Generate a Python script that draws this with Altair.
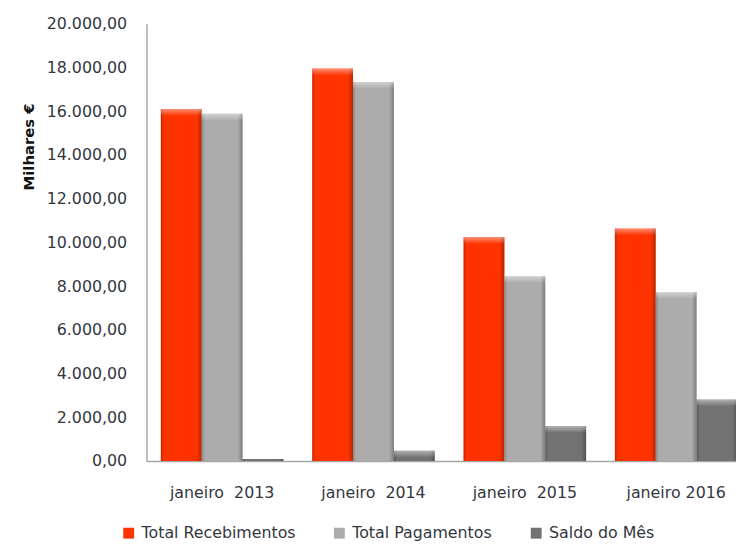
import altair as alt
import pandas as pd

# ---- data ----
categories = ["janeiro\u00a0 2013", "janeiro\u00a0 2014", "janeiro\u00a0 2015", "janeiro 2016"]
series = ["Total Recebimentos", "Total Pagamentos", "Saldo do Mês"]
total_recebimentos = [16100, 17950, 10240, 10640]
total_pagamentos = [15880, 17340, 8450, 7720]
saldo_do_mes = [90, 470, 1600, 2810]
colors = ["#FF3300", "#ACACAC", "#727272"]
y_ticks = list(range(0, 20001, 2000))

rows = []
for i, c in enumerate(categories):
    for s, vals in zip(series, [total_recebimentos, total_pagamentos, saldo_do_mes]):
        rows.append({"mes": c, "serie": s, "valor": vals[i]})
df = pd.DataFrame(rows)

FONT = "DejaVu Sans"
TXT = "#333740"

x_enc = alt.X(
    "mes:N", sort=categories, title=None,
    scale=alt.Scale(range=[0, 612], paddingInner=0.19, paddingOuter=0.095),
    axis=alt.Axis(labelAngle=0, ticks=False, labelPadding=24, labelFontSize=16,
                  labelFont=FONT, labelColor=TXT, domainColor="#A6A6A6", domainWidth=1.5),
)
xoff_enc = alt.XOffset("serie:N", sort=series, scale=alt.Scale(paddingInner=0, paddingOuter=0))
y_enc = alt.Y(
    "valor:Q",
    scale=alt.Scale(domain=[0, 20000], nice=False),
    axis=alt.Axis(
        values=y_ticks, grid=False, ticks=False, labelPadding=20,
        labelFontSize=16, labelFont=FONT, labelColor=TXT,
        labelExpr="replace(replace(replace(format(datum.value, ',.2f'), ',', 'X'), '.', ','), 'X', '.')",
        domainColor="#A6A6A6", domainWidth=1.5,
        title="Milhares €", titleFont=FONT, titleFontSize=15, titleFontWeight="bold",
        titleColor="#111111", titleX=-119, titleY=124, titleAngle=270,
        titleAlign="center", titleBaseline="middle",
    ),
)

bars = alt.Chart(df).mark_bar(clip=True).encode(
    x=x_enc,
    xOffset=xoff_enc,
    y=y_enc,
    color=alt.Color(
        "serie:N", sort=series,
        scale=alt.Scale(domain=series, range=colors),
        legend=alt.Legend(
            orient="none", legendX=-26, legendY=507, direction="horizontal", columns=3,
            title=None, symbolType="square", symbolSize=121, symbolStrokeWidth=0,
            labelFontSize=16, labelFont=FONT, labelColor=TXT, columnPadding=36,
            labelOffset=5, padding=0,
        ),
    ),
)

shade = alt.Chart(df).mark_bar(
    clip=True,
    color=alt.Gradient(
        gradient="linear", x1=0, x2=1, y1=0, y2=0,
        stops=[
            alt.GradientStop(color="rgba(0,0,0,0.22)", offset=0),
            alt.GradientStop(color="rgba(0,0,0,0)", offset=0.08),
            alt.GradientStop(color="rgba(0,0,0,0)", offset=0.88),
            alt.GradientStop(color="rgba(0,0,0,0.28)", offset=1),
        ],
    ),
).encode(x=x_enc, xOffset=xoff_enc, y=y_enc)

bevel = alt.Chart(df).transform_filter("datum.valor > 300").mark_bar(
    clip=True, y2Offset=7,
    color=alt.Gradient(
        gradient="linear", x1=0, x2=0, y1=0, y2=1,
        stops=[
            alt.GradientStop(color="rgba(255,255,255,0.45)", offset=0),
            alt.GradientStop(color="rgba(255,255,255,0)", offset=1),
        ],
    ),
).encode(x=x_enc, xOffset=xoff_enc, y=y_enc, y2=alt.Y2("valor:Q"))

chart = alt.layer(bars, shade, bevel).properties(
    width=596, height=442,
    autosize=alt.AutoSizeParams(type="none"),
    padding={"left": 140, "top": 13, "right": 0, "bottom": 81},
    background="white",
).configure_view(stroke=None)

chart.save("out.html", embed_options={"renderer": "svg", "actions": False})
